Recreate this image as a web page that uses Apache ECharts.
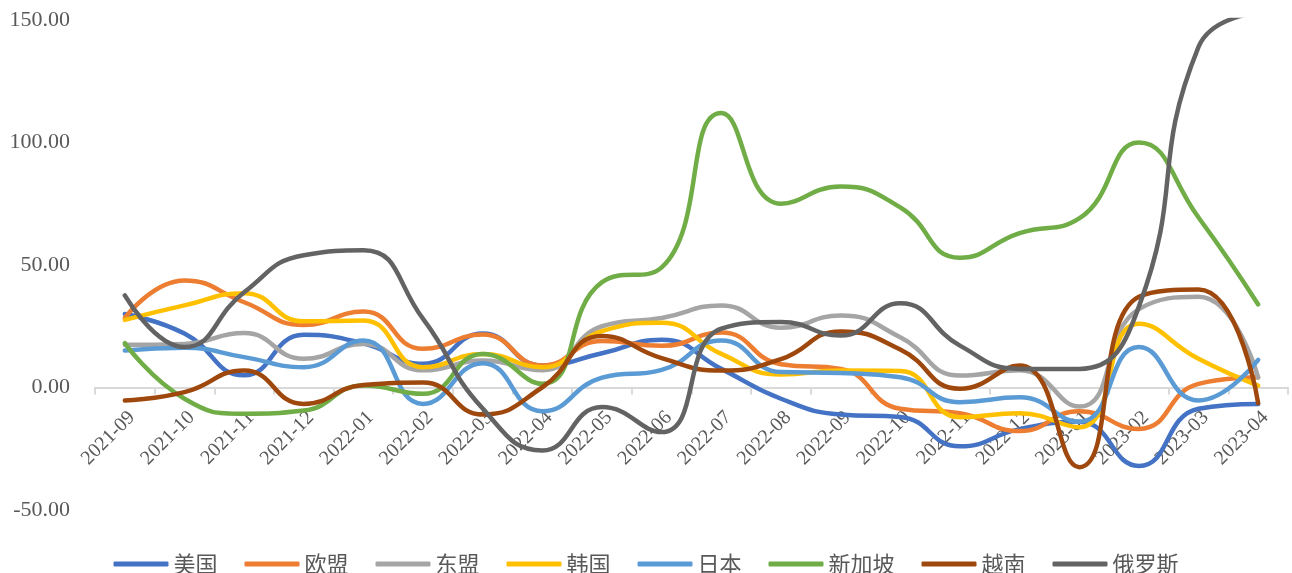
<!DOCTYPE html>
<html>
<head>
<meta charset="utf-8">
<script src="https://cdn.jsdelivr.net/npm/echarts@6/dist/echarts.min.js"></script>
<style>
  html, body { margin: 0; padding: 0; background: #fff; }
  #chart { width: 1292px; height: 573px; }
</style>
</head>
<body>
<div id="chart"></div>
<script>
const months = ['2021-09', '2021-10', '2021-11', '2021-12', '2022-01', '2022-02', '2022-03', '2022-04', '2022-05', '2022-06',
  '2022-07', '2022-08', '2022-09', '2022-10', '2022-11', '2022-12', '2023-01', '2023-02', '2023-03', '2023-04']

const usa = [30, 22, 5, 21.5, 18, 9.7, 22, 9, 14, 19.5, 7.6, -4.6, -11, -12, -24, -17, -14, -32, -8.7, -6.7]
const eu = [28.4, 43.7, 34.8, 25.5, 31, 15.8, 21.6, 9, 19, 17, 22.4, 9.5, 7.6, -8.7, -10.5, -17.8, -9.7, -16.9, 1.5, 4.2]
const asean = [17.4, 17.8, 22.2, 11.7, 17.8, 7, 11, 7, 25, 28.4, 33.5, 24.4, 29.4, 20.5, 4.9, 7, -7.8, 32, 37, 4]
const korea = [27.6, 33.5, 38.5, 27, 27.3, 8.3, 13.7, 8.3, 23, 26.4, 13.7, 5.3, 6.9, 6.7, -12.1, -10.5, -16.2, 26, 11.7, 0.8]
const japan = [15.1, 16.2, 12.4, 8.3, 19.2, -6.7, 9.9, -9.7, 4, 7.2, 19.2, 6.3, 5.9, 4.2, -6, -4, -14, 16.5, -5.3, 11.3]
const singapore = [18.1, -4.6, -10.7, -9.4, 0.8, -2.6, 13.7, 1.5, 43, 49, 112, 75, 82, 73.5, 53, 63, 69, 100, 69.4, 33.9]
const vietnam = [-5.3, -1.9, 6.9, -6.7, 1, 2, -11, 0.1, 21, 12, 6.9, 11.6, 22.9, 15.5, -0.5, 9, -32.5, 37, 40, -6.4]
const russia = [37.6, 16.5, 38.9, 54, 56, 28, -8.6, -25.7, -8, -18.2, 24, 26.7, 21.2, 34.4, 17.1, 7.6, 7.6, 33, 139, 153]

const names = ['美国', '欧盟', '东盟', '韩国', '日本', '新加坡', '越南', '俄罗斯']
const colors = ['#4472C4', '#ED7D31', '#A5A5A5', '#FFC000', '#5B9BD5', '#70AD47', '#9E480E', '#636363']
const rows = [usa, eu, asean, korea, japan, singapore, vietnam, russia]

const chart = echarts.init(document.getElementById('chart'))

chart.setOption({
  animation: false,
  color: colors,
  grid: {
    left: 95,
    right: 4,
    top: 20,
    bottom: 63
  },
  legend: {
    data: names,
    left: 'center',
    top: 548,
    icon: 'roundRect',
    itemWidth: 55,
    itemHeight: 5,
    itemGap: 27,
    textStyle: {
      fontFamily: 'Noto Sans CJK SC',
      fontSize: 22,
      color: '#595959'
    }
  },
  xAxis: {
    type: 'category',
    data: months,
    boundaryGap: true,
    // the axis sits on the zero line, which is 122.5px above the grid bottom
    offset: -122.5,
    axisLine: {
      onZero: false,
      lineStyle: { color: '#D9D9D9', width: 2 }
    },
    axisTick: {
      show: true,
      length: 7,
      lineStyle: { color: '#D9D9D9', width: 2 }
    },
    axisLabel: {
      interval: 0,
      rotate: 45,
      margin: 20,
      verticalAlign: 'top',
      fontFamily: 'Liberation Serif',
      fontSize: 20,
      color: '#595959'
    }
  },
  yAxis: {
    type: 'value',
    min: -50,
    max: 150,
    interval: 50,
    axisLine: { show: false },
    axisTick: { show: false },
    splitLine: { show: false },
    axisLabel: {
      margin: 25,
      fontFamily: 'Liberation Serif',
      fontSize: 22,
      color: '#595959',
      formatter: (v) => v.toFixed(2)
    }
  },
  series: rows.map((vals, i) => ({
    name: names[i],
    type: 'line',
    data: vals,
    smooth: 0.5,
    symbol: 'none',
    lineStyle: {
      width: 4.5,
      cap: 'round',
      join: 'round'
    }
  }))
})
</script>
</body>
</html>
